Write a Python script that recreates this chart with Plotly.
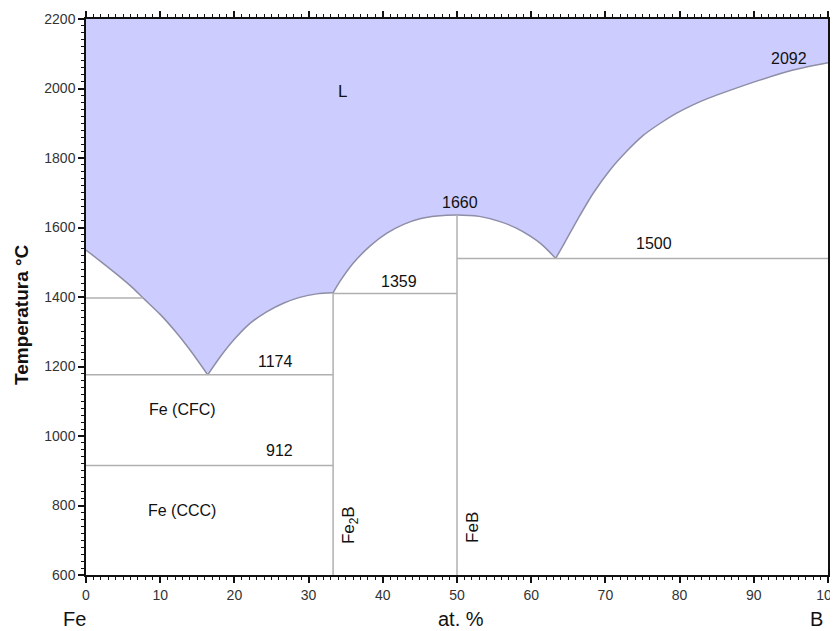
import plotly.graph_objects as go

# Liquidus segments (at.% B, °C)
seg_a_x = [0, 2.0, 4.0, 6.0, 7.7, 10.0, 12.0, 14.0, 16.4]
seg_a_y = [1535, 1502, 1468, 1432, 1397, 1350, 1302, 1248, 1176]
seg_b_x = [16.4, 18.1, 19.9, 22.1, 24.4, 26.6, 28.8, 31.1, 33.3]
seg_b_y = [1176, 1228, 1276, 1324, 1358, 1382, 1399, 1409, 1412]
seg_c_x = [33.3, 34.2, 36.0, 38.3, 40.5, 42.8, 45.0, 47.3, 50.0, 53.0, 55.8, 58.0, 61.2, 63.3]
seg_c_y = [1412, 1444, 1497, 1547, 1583, 1609, 1625, 1633, 1636, 1632, 1617, 1598, 1555, 1511]
seg_d_x = [63.3, 64.5, 66.3, 68.4, 70.6, 72.9, 75.1, 77.4, 79.6, 81.8, 84.0, 86.3, 90.8, 95.3, 100]
seg_d_y = [1511, 1556, 1625, 1700, 1765, 1820, 1865, 1900, 1929, 1953, 1973, 1991, 2024, 2053, 2074]

# Isotherms
iso_y = [1397, 1176, 915, 1410, 1511]
iso_x0 = [0, 0, 0, 33.3, 50]
iso_x1 = [7.7, 33.3, 33.3, 50, 100]

# Compound lines
comp_x = [33.3, 50]
comp_top = [1410, 1636]
comp_names = ["Fe<sub>2</sub>B", "FeB"]
comp_label_x = [35.6, 52.0]
comp_label_y = [744, 738]

# Labels
lab_text = ["L", "2092", "1660", "1359", "1500", "1174", "912", "Fe (CFC)", "Fe (CCC)"]
lab_x = [34.6, 94.7, 50.4, 42.2, 76.5, 25.6, 26.1, 13.0, 12.9]
lab_y = [1990, 2086, 1671, 1444, 1554, 1214, 957, 1075, 787]

x_range = [0, 100]
y_range = [600, 2200]

FONT = "Arial, Liberation Sans, sans-serif"
fig = go.Figure()

# fill region above liquidus
fill_x = seg_a_x + seg_b_x[1:] + seg_c_x[1:] + seg_d_x[1:] + [x_range[1], x_range[0]]
fill_y = seg_a_y + seg_b_y[1:] + seg_c_y[1:] + seg_d_y[1:] + [y_range[1], y_range[1]]
fig.add_trace(go.Scatter(x=fill_x, y=fill_y, fill="toself", fillcolor="rgb(204,204,255)",
                         line=dict(width=0), mode="lines", hoverinfo="skip", showlegend=False))

for sx, sy in [(seg_a_x, seg_a_y), (seg_b_x, seg_b_y), (seg_c_x, seg_c_y), (seg_d_x, seg_d_y)]:
    fig.add_trace(go.Scatter(x=sx, y=sy, mode="lines",
                             line=dict(color="#8e8ea6", width=1.5, shape="spline", smoothing=0.8),
                             showlegend=False, hoverinfo="skip"))

for y, x0, x1 in zip(iso_y, iso_x0, iso_x1):
    fig.add_trace(go.Scatter(x=[x0, x1], y=[y, y], mode="lines", line=dict(color="#b0b0b0", width=1.5),
                             showlegend=False, hoverinfo="skip"))
for x, top in zip(comp_x, comp_top):
    fig.add_trace(go.Scatter(x=[x, x], y=[y_range[0], top], mode="lines", line=dict(color="#b0b0b0", width=1.5),
                             showlegend=False, hoverinfo="skip"))

for t, x, y in zip(lab_text, lab_x, lab_y):
    fig.add_annotation(x=x, y=y, text=t, showarrow=False, xanchor="center", yanchor="middle",
                       font=dict(family=FONT, size=17 if t == "L" else 16, color="#111"))

for x, name, y in zip(comp_label_x, comp_names, comp_label_y):
    fig.add_annotation(x=x, y=y, text=name, textangle=-90, showarrow=False, xanchor="center", yanchor="middle",
                       font=dict(family=FONT, size=17, color="#111"))

# outer texts
fig.add_annotation(xref="paper", yref="paper", x=-0.086, y=0.468, text="<b>Temperatura °C</b>", textangle=-90,
                   showarrow=False, xanchor="center", yanchor="middle", font=dict(family=FONT, size=19, color="#111"))
for t, px in [("Fe", -0.016), ("at. %", 0.505), ("B", 0.985)]:
    fig.add_annotation(xref="paper", yref="paper", x=px, y=-0.079, text=t, showarrow=False,
                       xanchor="center", yanchor="middle", font=dict(family=FONT, size=20, color="#111"))

axis_common = dict(showline=True, linecolor="#111", linewidth=1.5, mirror="ticks", ticks="outside",
                   ticklen=6, tickwidth=1.5, tickcolor="#111", showgrid=False, zeroline=False,
                   automargin=False, tickfont=dict(family=FONT, size=14, color="#333"))
fig.update_xaxes(range=x_range, dtick=10, tick0=0, ticklabeloverflow="allow",
                 minor=dict(dtick=1, ticks="outside", ticklen=3, tickcolor="#111", tickwidth=1),
                 **axis_common)
fig.update_yaxes(range=y_range, dtick=200, tick0=600,
                 minor=dict(dtick=20, ticks="outside", ticklen=3, tickcolor="#111", tickwidth=1),
                 **axis_common)

# page body has an 8px margin: figure is sized/offset to put the plot area where the reference has it
fig.update_layout(width=830, height=623, margin=dict(l=78, r=10, t=11, b=56),
                  plot_bgcolor="white", paper_bgcolor="white", showlegend=False)

fig.write_html("out.html")
